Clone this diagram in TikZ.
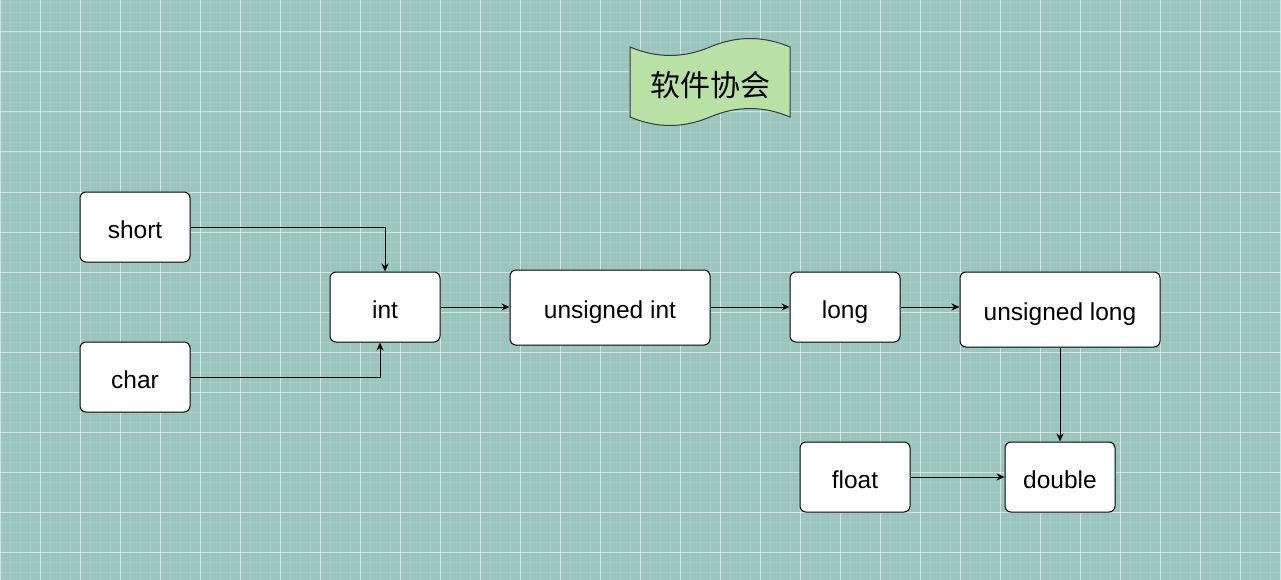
\documentclass[tikz,border=0pt]{standalone}
\usepackage{fontspec}
\setmainfont{Liberation Sans}
\newfontfamily\cjk{Noto Sans CJK SC}
\usetikzlibrary{arrows.meta}
\definecolor{bgc}{HTML}{9AC6BD}
\definecolor{bannerfill}{HTML}{B9E0A5}
\definecolor{bannerline}{HTML}{36393D}
\begin{document}
\begin{tikzpicture}[x=1pt,y=-1pt,
  box/.style={draw=black,fill=white,rounded corners=6pt,line width=1pt,inner sep=0pt,
    text height=22pt,text depth=0pt,
    font=\fontsize{24.5}{28}\selectfont},
  conn/.style={draw=black,line width=1pt,-{Stealth[length=8pt,width=7pt]}}]
\useasboundingbox (0,0) rectangle (1281,580);
\fill[bgc] (0,0) rectangle (1281,580);
% minor grid
\foreach \x in {10,20,...,1280} \draw[white,opacity=0.1,line width=0.8pt] (\x,0) -- (\x,580);
\foreach \y in {2,12,...,578} \draw[white,opacity=0.1,line width=0.8pt] (0,\y) -- (1281,\y);
% major grid
\foreach \x in {0,40,...,1280} \draw[white,opacity=0.5,line width=1pt] (\x,0) -- (\x,580);
\foreach \y in {32,72,...,572} \draw[white,opacity=0.5,line width=1pt] (0,\y) -- (1281,\y);
% banner
\draw[fill=bannerfill,draw=bannerline,line width=1pt]
  (630,47) .. controls (656.7,58.3) and (683.3,58.3) .. (710,47)
  .. controls (736.7,35.7) and (763.3,35.7) .. (790,47)
  -- (790,117) .. controls (763.3,105.7) and (736.7,105.7) .. (710,117)
  .. controls (683.3,128.3) and (656.7,128.3) .. (630,117) -- cycle;
\node (banner) at (710,85) {\cjk\fontsize{30}{33}\selectfont 软件协会};
% nodes
\node[box,minimum width=110pt,minimum height=70pt] (short) at (135,227) {short};
\node[box,minimum width=110pt,minimum height=70pt] (char) at (135,377) {char};
\node[box,minimum width=110pt,minimum height=70pt] (int) at (385,307) {int};
\node[box,minimum width=200pt,minimum height=75pt] (uint) at (610,307.5) {unsigned int};
\node[box,minimum width=110pt,minimum height=70pt] (long) at (845,307) {long};
\node[box,minimum width=200pt,minimum height=75pt] (ulong) at (1060,309.5) {unsigned long};
\node[box,minimum width=110pt,minimum height=70pt] (float) at (855,477) {float};
\node[box,minimum width=110pt,minimum height=70pt] (double) at (1060,477) {double};
% connectors
\draw[conn] (short.east) -| (int.north);
\draw[conn] (char.east) -| ([xshift=-5pt]int.south);
\draw[conn] (int.east) -- (int.east -| uint.west);
\draw[conn] (uint.east |- int.east) -- (long.west);
\draw[conn] (long.east) -- (long.east -| ulong.west);
\draw[conn] (ulong.south) -- (double.north);
\draw[conn] (float.east) -- (double.west);
\end{tikzpicture}
\end{document}
